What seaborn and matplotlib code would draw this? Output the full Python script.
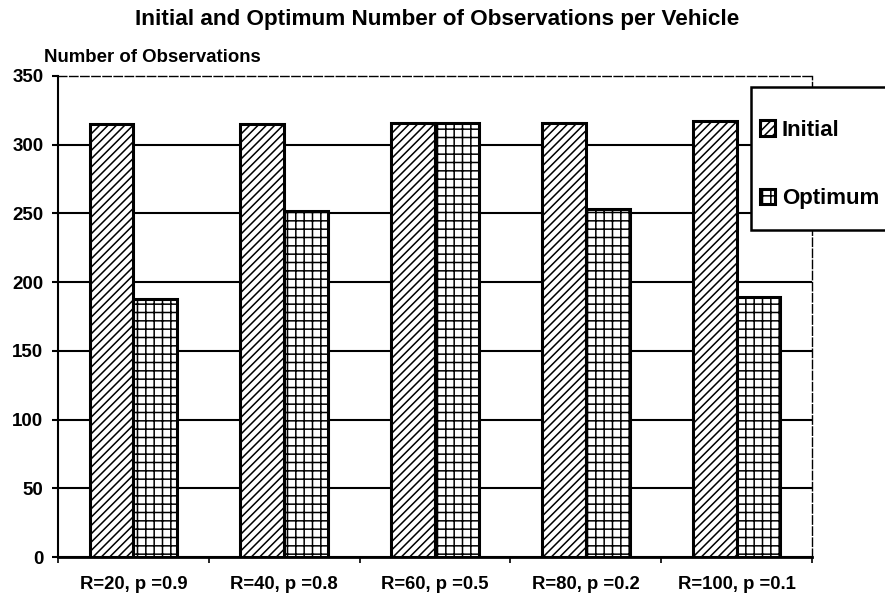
import pandas as pd
import seaborn as sns
import matplotlib.pyplot as plt
from matplotlib.patches import Rectangle

# values
categories = ["R=20, p =0.9", "R=40, p =0.8", "R=60, p =0.5", "R=80, p =0.2", "R=100, p =0.1"]
initial = [315, 315, 316, 316, 317]
optimum = [188, 252, 316, 253, 189]
series = ["Initial", "Optimum"]
hatches = ["////", "++"]

df = pd.DataFrame({
    "Setting": categories * 2,
    "Observations": initial + optimum,
    "Series": [series[0]] * len(initial) + [series[1]] * len(optimum),
})

sns.set_style("ticks")
plt.rcParams["font.family"] = ["Liberation Sans", "DejaVu Sans"]
plt.rcParams["font.weight"] = "bold"
plt.rcParams["text.color"] = "black"
plt.rcParams["axes.labelcolor"] = "black"
plt.rcParams["hatch.linewidth"] = 1.1
plt.rcParams["hatch.color"] = "black"

fig, ax = plt.subplots(figsize=(8.85, 6.03), dpi=100)
fig.subplots_adjust(left=58 / 885, right=812 / 885, top=1 - 76 / 603, bottom=1 - 557 / 603)

sns.barplot(data=df, x="Setting", y="Observations", hue="Series", order=categories,
            hue_order=series, palette=["white", "white"], saturation=1, width=0.58, gap=0,
            edgecolor="black", linewidth=2.2, errorbar=None, legend=False, ax=ax)
for bars, h in zip(ax.containers, hatches):
    for b in bars:
        b.set_hatch(h)

ax.set_xlim(-0.5, len(categories) - 0.5)
ax.set_ylim(0, 350)
ax.set_yticks(range(0, 351, 50))
ax.set_xticks([i - 0.5 for i in range(len(categories) + 1)], minor=True)
ax.set_xlabel("")
ax.set_ylabel("")

ax.yaxis.grid(True, color="black", linewidth=1.5)
ax.set_axisbelow(True)
ax.yaxis.get_gridlines()[-1].set_visible(False)

ax.tick_params(axis="y", direction="out", length=4.5, width=1.5, pad=6, labelsize=13.5, colors="black")
ax.tick_params(axis="x", which="major", length=0, pad=14, labelsize=13.3, colors="black")
ax.tick_params(axis="x", which="minor", length=4, width=1.2, direction="out", color="black")

ax.spines["left"].set_linewidth(1.5)
ax.spines["bottom"].set_linewidth(2)
for s in ["top", "right"]:
    ax.spines[s].set_visible(True)
    ax.spines[s].set_linewidth(1)
    ax.spines[s].set_linestyle((0, (6, 2)))
for s in ax.spines.values():
    s.set_color("black")

fig.suptitle("Initial and Optimum Number of Observations per Vehicle",
             x=437 / 885, y=1 - 19 / 603, va="center", fontsize=16.2, fontweight="bold",
             color="black")
fig.text(44 / 885, 1 - 58 / 603, "Number of Observations", ha="left", va="center",
         fontsize=13.4, fontweight="bold", color="black")

leg = fig.legend(ax.containers, series, loc="upper left", bbox_to_anchor=(751 / 885, 1 - 111 / 603),
                 frameon=False, fontsize=16, handlelength=0.68, handleheight=0.68,
                 handletextpad=0.3, labelspacing=2.13, borderpad=0.4, borderaxespad=0)
for t in leg.get_texts():
    t.set_fontweight("bold")
    t.set_color("black")

# legend box: taller than the entries, running off the right edge
fig.canvas.draw()
bb = leg.get_window_extent().transformed(fig.transFigure.inverted())
pad_top, pad_bottom = 24 / 603, 12 / 603
fig.add_artist(Rectangle((bb.x0, bb.y0 - pad_bottom), 1.1 - bb.x0, bb.height + pad_top + pad_bottom,
                         transform=fig.transFigure, facecolor="white", edgecolor="black",
                         linewidth=1.8, zorder=leg.get_zorder() - 0.1))

fig.savefig("out.png", dpi=100)
